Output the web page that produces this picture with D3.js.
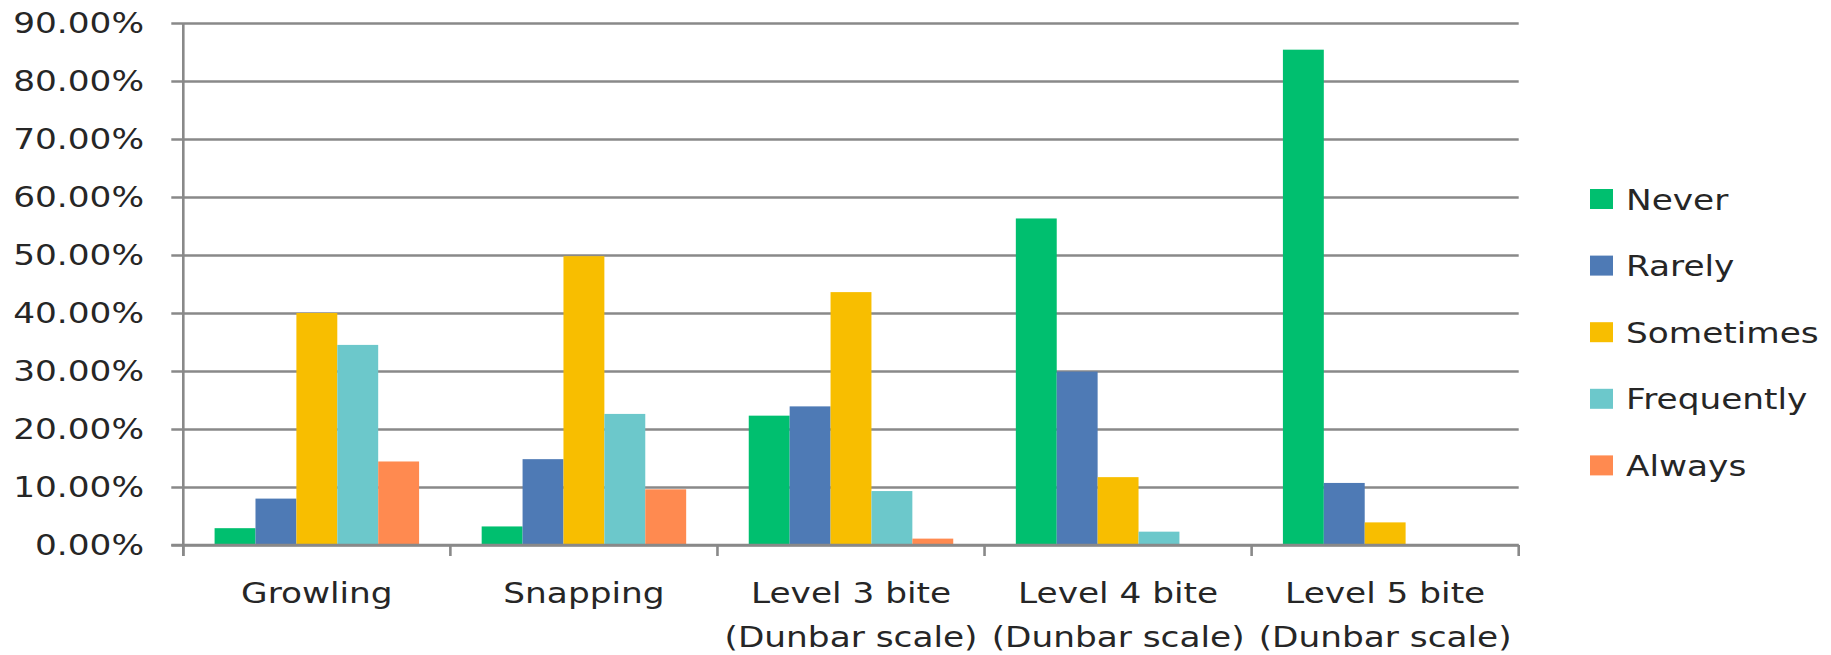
<!DOCTYPE html>
<html>
<head>
<meta charset="utf-8">
<script src="https://cdn.jsdelivr.net/npm/d3@7/dist/d3.min.js"></script>
<style>
  html, body { margin: 0; padding: 0; background: #fff; }
  svg { display: block; }
  text { font-family: "DejaVu Sans", sans-serif; fill: #262626; }
</style>
</head>
<body>
<svg id="chart" width="1831" height="655"></svg>
<script>
// Categories (line breaks split the label into rows)
const categories = [
  "Growling",
  "Snapping",
  "Level 3 bite\n(Dunbar scale)",
  "Level 4 bite\n(Dunbar scale)",
  "Level 5 bite\n(Dunbar scale)"
];

// Series, one value per category (share of responses)
const seriesNames = ["Never", "Rarely", "Sometimes", "Frequently", "Always"];
const never      = [0.029, 0.032, 0.223, 0.563, 0.854];
const rarely     = [0.080, 0.148, 0.239, 0.299, 0.107];
const sometimes  = [0.400, 0.498, 0.436, 0.117, 0.039];
const frequently = [0.345, 0.226, 0.093, 0.023, 0.000];
const always     = [0.144, 0.096, 0.011, 0.000, 0.000];
const seriesValues = [never, rarely, sometimes, frequently, always];

const seriesColors = ["#00BF6F", "#4E7AB5", "#F8BE00", "#6CC8CB", "#FF8A50"];

// Y axis tick values
const yTicks = [0, 0.1, 0.2, 0.3, 0.4, 0.5, 0.6, 0.7, 0.8, 0.9];

const svg = d3.select("#chart");
const plot = { left: 183.3, right: 1518.7, top: 23, bottom: 545 };
const axisColor = "#898989";
const fontSize = 28.6;
const stretch = 1.2; // horizontal widening of the type

const y = d3.scaleLinear().domain([0, 0.9]).range([plot.bottom, plot.top]);
const x0 = d3.scaleBand().domain(categories).range([plot.left, plot.right]).padding(0);
const x1 = d3.scaleBand().domain(seriesNames).range([0, x0.bandwidth()])
  .paddingInner(0).paddingOuter(0.765);

// Horizontal gridlines with their small left ticks
const grid = svg.append("g")
  .attr("transform", `translate(${plot.left - 12},0)`)
  .call(d3.axisRight(y).tickValues(yTicks).tickSize(plot.right - plot.left + 12).tickFormat(""));
grid.select(".domain").remove();
grid.selectAll(".tick line").attr("stroke", axisColor).attr("stroke-width", 2.6);

// Y tick labels
const fmt = d3.format(".2%");
svg.append("g").selectAll("text")
  .data(yTicks)
  .join("text")
  .attr("transform", d => `translate(144,${y(d)}) scale(${stretch},1)`)
  .attr("text-anchor", "end")
  .attr("dy", "0.36em")
  .style("font-size", fontSize + "px")
  .text(d => fmt(d));

// Bars
const groups = svg.append("g").selectAll("g")
  .data(categories)
  .join("g")
  .attr("transform", d => `translate(${x0(d)},0)`);

groups.selectAll("rect")
  .data((c, ci) => seriesNames.map((s, si) => ({ s, si, v: seriesValues[si][ci] })))
  .join("rect")
  .attr("x", d => x1(d.s))
  .attr("width", x1.bandwidth())
  .attr("y", d => y(d.v))
  .attr("height", d => y(0) - y(d.v))
  .attr("fill", d => seriesColors[d.si]);

// Vertical axis line
svg.append("line")
  .attr("x1", plot.left).attr("x2", plot.left)
  .attr("y1", plot.top).attr("y2", plot.bottom + 11)
  .attr("stroke", axisColor).attr("stroke-width", 2.6);

// Category axis: baseline and boundary ticks
svg.append("line")
  .attr("x1", plot.left - 12).attr("x2", plot.right)
  .attr("y1", plot.bottom).attr("y2", plot.bottom)
  .attr("stroke", axisColor).attr("stroke-width", 2.6);
const bounds = categories.map(c => x0(c)).concat([x0.range()[1]]);
svg.append("g").selectAll("line")
  .data(bounds)
  .join("line")
  .attr("x1", d => d).attr("x2", d => d)
  .attr("y1", plot.bottom).attr("y2", plot.bottom + 11)
  .attr("stroke", axisColor).attr("stroke-width", 2.6);

// Category labels
const catLabels = svg.append("g").selectAll("g")
  .data(categories)
  .join("g")
  .attr("transform", d => `translate(${x0(d) + x0.bandwidth() / 2},0)`);
catLabels.selectAll("text")
  .data(d => d.split("\n"))
  .join("text")
  .attr("transform", (d, i) => `translate(0,${603 + i * 44}) scale(${stretch},1)`)
  .attr("text-anchor", "middle")
  .style("font-size", fontSize + "px")
  .text(d => d);

// Legend
const legend = svg.append("g").selectAll("g")
  .data(seriesNames)
  .join("g")
  .attr("transform", (d, i) => `translate(1590,${189 + i * 66.6})`);
legend.append("rect")
  .attr("width", 23).attr("height", 20)
  .attr("fill", (d, i) => seriesColors[i]);
legend.append("text")
  .attr("transform", `translate(36,20.5) scale(${stretch},1)`)
  .style("font-size", fontSize + "px")
  .text(d => d);
</script>
</body>
</html>
